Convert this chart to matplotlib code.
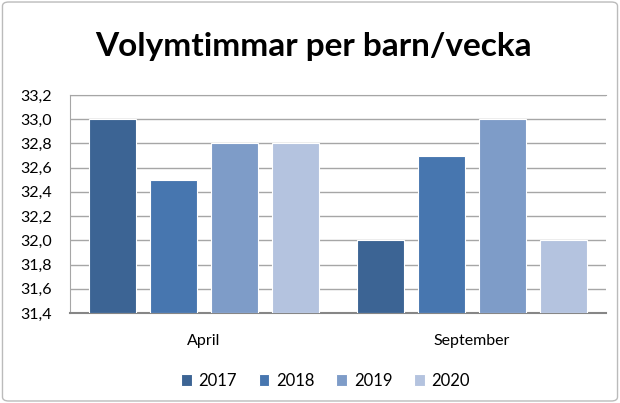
import numpy as np
import matplotlib.pyplot as plt
from matplotlib.patches import FancyBboxPatch

# Data
categories = ['April', 'September']
years = ['2017', '2018', '2019', '2020']
values_2017 = [33.0, 32.0]
values_2018 = [32.5, 32.7]
values_2019 = [32.8, 33.0]
values_2020 = [32.8, 32.0]
series = [values_2017, values_2018, values_2019, values_2020]
colors = ['#3C6494', '#4776AF', '#7E9CC8', '#B4C3DF']
yticks = [31.4, 31.6, 31.8, 32.0, 32.2, 32.4, 32.6, 32.8, 33.0, 33.2]

plt.rcParams['font.family'] = ['Lato', 'DejaVu Sans']

fig = plt.figure(figsize=(6.2, 4.03), dpi=100)
ax = fig.add_axes([70/620, 1-313/403, 536/620, 218/403])

# Outer chart border
fig.patches.append(FancyBboxPatch((0.004, 0.005), 0.992, 0.99, boxstyle='round,pad=0,rounding_size=0.01',
                                  transform=fig.transFigure, fill=False, edgecolor='#BBBBBB', linewidth=1))

x = np.arange(len(categories))
width = 0.179
step = 0.2276
for i, (vals, col) in enumerate(zip(series, colors)):
    ax.bar(x + (i - 1.5) * step, np.array(vals) - 31.4, width, bottom=31.4, color=col,
           edgecolor='white', linewidth=0.8, label=years[i], zorder=3)

ax.set_xlim(-0.5, 1.5)
ax.set_ylim(31.4, 33.2)
ax.set_yticks(yticks)
ax.set_yticklabels([f'{t:.1f}'.replace('.', ',') for t in yticks], fontsize=11.5)
ax.set_xticks(x)
ax.set_xticklabels(categories, fontsize=11.5)
ax.tick_params(axis='x', length=0, pad=15)
ax.tick_params(axis='y', length=0, pad=13)
ax.grid(axis='y', color='#A6A6A6', linewidth=1, zorder=0)
for s in ['left', 'top', 'right']:
    ax.spines[s].set_color('#A6A6A6')
ax.spines['right'].set_visible(False)
ax.spines['bottom'].set_color('#868686')
ax.spines['bottom'].set_linewidth(1.5)

fig.text(0.505, 0.885, 'Volymtimmar per barn/vecka', ha='center', va='center',
         fontsize=24, fontweight='bold')

fig.legend(loc='center', bbox_to_anchor=(0.525, 0.055), ncol=4, frameon=False,
           fontsize=12, handlelength=0.65, handleheight=0.65, handletextpad=0.4, columnspacing=1.3)

fig.savefig('out.png', dpi=100)
